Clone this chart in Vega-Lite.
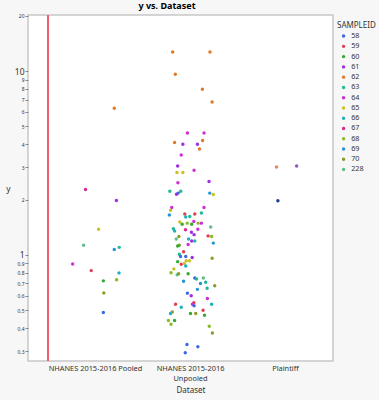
{
"$schema": "https://vega.github.io/schema/vega-lite/v6.json",
"width": 305, "height": 346,
"autosize": "none",
"padding": {"left": 28, "top": 15, "right": 46, "bottom": 39},
"background": "#f7f7f7",
"title": {"text": "y vs. Dataset", "fontSize": 9, "font": "Noto Sans", "fontWeight": "bold", "frame": "group", "anchor": "middle", "dx": -13.5, "offset": 3, "color": "#000000"},
"config": {"view": {"fill": "white", "stroke": "#c8c8c8", "strokeWidth": 1.5}, "font": "Noto Sans"},
"layer": [
{"data": {"values": [{}]},
 "mark": {"type": "rule", "color": "#f25c6e", "strokeWidth": 2},
 "encoding": {"x": {"datum": "NHANES 2015-2016 Pooled", "type": "nominal", "bandPosition": 0}}},
{"data": {"values": [
{"Dataset":"NHANES 2015-2016 Pooled","SAMPLEID":"67","jitter":-0.42,"y":2.27},
{"Dataset":"NHANES 2015-2016 Pooled","SAMPLEID":"61","jitter":0.88,"y":1.98},
{"Dataset":"NHANES 2015-2016 Pooled","SAMPLEID":"65","jitter":0.13,"y":1.38},
{"Dataset":"NHANES 2015-2016 Pooled","SAMPLEID":"228","jitter":-0.5,"y":1.13},
{"Dataset":"NHANES 2015-2016 Pooled","SAMPLEID":"69","jitter":0.79,"y":1.07},
{"Dataset":"NHANES 2015-2016 Pooled","SAMPLEID":"63","jitter":1.0,"y":1.10},
{"Dataset":"NHANES 2015-2016 Pooled","SAMPLEID":"64","jitter":-0.96,"y":0.894},
{"Dataset":"NHANES 2015-2016 Pooled","SAMPLEID":"59","jitter":-0.18,"y":0.822},
{"Dataset":"NHANES 2015-2016 Pooled","SAMPLEID":"66","jitter":0.99,"y":0.799},
{"Dataset":"NHANES 2015-2016 Pooled","SAMPLEID":"60","jitter":0.33,"y":0.723},
{"Dataset":"NHANES 2015-2016 Pooled","SAMPLEID":"68","jitter":0.89,"y":0.734},
{"Dataset":"NHANES 2015-2016 Pooled","SAMPLEID":"70","jitter":0.35,"y":0.622},
{"Dataset":"NHANES 2015-2016 Pooled","SAMPLEID":"58","jitter":0.33,"y":0.486},
{"Dataset":"NHANES 2015-2016 Pooled","SAMPLEID":"62","jitter":0.79,"y":6.28},
{"Dataset":"NHANES 2015-2016 Unpooled","SAMPLEID":"62","jitter":-0.75,"y":12.7},
{"Dataset":"NHANES 2015-2016 Unpooled","SAMPLEID":"62","jitter":0.82,"y":12.7},
{"Dataset":"NHANES 2015-2016 Unpooled","SAMPLEID":"62","jitter":-0.64,"y":9.63},
{"Dataset":"NHANES 2015-2016 Unpooled","SAMPLEID":"62","jitter":0.5,"y":7.96},
{"Dataset":"NHANES 2015-2016 Unpooled","SAMPLEID":"62","jitter":0.91,"y":6.79},
{"Dataset":"NHANES 2015-2016 Unpooled","SAMPLEID":"64","jitter":-0.13,"y":4.61},
{"Dataset":"NHANES 2015-2016 Unpooled","SAMPLEID":"64","jitter":0.57,"y":4.61},
{"Dataset":"NHANES 2015-2016 Unpooled","SAMPLEID":"62","jitter":-0.67,"y":4.09},
{"Dataset":"NHANES 2015-2016 Unpooled","SAMPLEID":"62","jitter":0.51,"y":4.19},
{"Dataset":"NHANES 2015-2016 Unpooled","SAMPLEID":"61","jitter":-0.32,"y":4.0},
{"Dataset":"NHANES 2015-2016 Unpooled","SAMPLEID":"61","jitter":0.29,"y":4.0},
{"Dataset":"NHANES 2015-2016 Unpooled","SAMPLEID":"62","jitter":0.38,"y":3.77},
{"Dataset":"NHANES 2015-2016 Unpooled","SAMPLEID":"64","jitter":-0.39,"y":3.5},
{"Dataset":"NHANES 2015-2016 Unpooled","SAMPLEID":"61","jitter":-0.54,"y":3.05},
{"Dataset":"NHANES 2015-2016 Unpooled","SAMPLEID":"64","jitter":0.15,"y":2.89},
{"Dataset":"NHANES 2015-2016 Unpooled","SAMPLEID":"65","jitter":-0.57,"y":2.81},
{"Dataset":"NHANES 2015-2016 Unpooled","SAMPLEID":"65","jitter":-0.32,"y":2.81},
{"Dataset":"NHANES 2015-2016 Unpooled","SAMPLEID":"64","jitter":-0.53,"y":2.47},
{"Dataset":"NHANES 2015-2016 Unpooled","SAMPLEID":"61","jitter":0.78,"y":2.51},
{"Dataset":"NHANES 2015-2016 Unpooled","SAMPLEID":"63","jitter":-0.87,"y":2.22},
{"Dataset":"NHANES 2015-2016 Unpooled","SAMPLEID":"63","jitter":-0.41,"y":2.22},
{"Dataset":"NHANES 2015-2016 Unpooled","SAMPLEID":"61","jitter":-0.59,"y":2.14},
{"Dataset":"NHANES 2015-2016 Unpooled","SAMPLEID":"58","jitter":-0.52,"y":2.17},
{"Dataset":"NHANES 2015-2016 Unpooled","SAMPLEID":"69","jitter":0.81,"y":2.17},
{"Dataset":"NHANES 2015-2016 Unpooled","SAMPLEID":"65","jitter":0.96,"y":2.13},
{"Dataset":"NHANES 2015-2016 Unpooled","SAMPLEID":"64","jitter":-0.79,"y":1.81},
{"Dataset":"NHANES 2015-2016 Unpooled","SAMPLEID":"64","jitter":0.57,"y":1.81},
{"Dataset":"NHANES 2015-2016 Unpooled","SAMPLEID":"65","jitter":-0.84,"y":1.75},
{"Dataset":"NHANES 2015-2016 Unpooled","SAMPLEID":"69","jitter":-0.89,"y":1.65},
{"Dataset":"NHANES 2015-2016 Unpooled","SAMPLEID":"59","jitter":-0.24,"y":1.67},
{"Dataset":"NHANES 2015-2016 Unpooled","SAMPLEID":"59","jitter":0.18,"y":1.67},
{"Dataset":"NHANES 2015-2016 Unpooled","SAMPLEID":"63","jitter":0.46,"y":1.69},
{"Dataset":"NHANES 2015-2016 Unpooled","SAMPLEID":"66","jitter":-0.2,"y":1.61},
{"Dataset":"NHANES 2015-2016 Unpooled","SAMPLEID":"63","jitter":-0.03,"y":1.62},
{"Dataset":"NHANES 2015-2016 Unpooled","SAMPLEID":"65","jitter":-0.45,"y":1.51},
{"Dataset":"NHANES 2015-2016 Unpooled","SAMPLEID":"60","jitter":-0.35,"y":1.47},
{"Dataset":"NHANES 2015-2016 Unpooled","SAMPLEID":"68","jitter":-0.14,"y":1.49},
{"Dataset":"NHANES 2015-2016 Unpooled","SAMPLEID":"64","jitter":0.14,"y":1.52},
{"Dataset":"NHANES 2015-2016 Unpooled","SAMPLEID":"60","jitter":0.05,"y":1.47},
{"Dataset":"NHANES 2015-2016 Unpooled","SAMPLEID":"68","jitter":0.32,"y":1.49},
{"Dataset":"NHANES 2015-2016 Unpooled","SAMPLEID":"64","jitter":0.46,"y":1.49},
{"Dataset":"NHANES 2015-2016 Unpooled","SAMPLEID":"228","jitter":0.85,"y":1.42},
{"Dataset":"NHANES 2015-2016 Unpooled","SAMPLEID":"63","jitter":-0.72,"y":1.39},
{"Dataset":"NHANES 2015-2016 Unpooled","SAMPLEID":"66","jitter":-0.67,"y":1.35},
{"Dataset":"NHANES 2015-2016 Unpooled","SAMPLEID":"67","jitter":-0.21,"y":1.37},
{"Dataset":"NHANES 2015-2016 Unpooled","SAMPLEID":"61","jitter":0.04,"y":1.33},
{"Dataset":"NHANES 2015-2016 Unpooled","SAMPLEID":"64","jitter":0.31,"y":1.38},
{"Dataset":"NHANES 2015-2016 Unpooled","SAMPLEID":"61","jitter":0.15,"y":1.29},
{"Dataset":"NHANES 2015-2016 Unpooled","SAMPLEID":"59","jitter":0.74,"y":1.27},
{"Dataset":"NHANES 2015-2016 Unpooled","SAMPLEID":"68","jitter":0.89,"y":1.26},
{"Dataset":"NHANES 2015-2016 Unpooled","SAMPLEID":"70","jitter":-0.49,"y":1.26},
{"Dataset":"NHANES 2015-2016 Unpooled","SAMPLEID":"228","jitter":-0.6,"y":1.22},
{"Dataset":"NHANES 2015-2016 Unpooled","SAMPLEID":"66","jitter":-0.08,"y":1.22},
{"Dataset":"NHANES 2015-2016 Unpooled","SAMPLEID":"61","jitter":0.05,"y":1.19},
{"Dataset":"NHANES 2015-2016 Unpooled","SAMPLEID":"63","jitter":0.18,"y":1.19},
{"Dataset":"NHANES 2015-2016 Unpooled","SAMPLEID":"69","jitter":0.96,"y":1.16},
{"Dataset":"NHANES 2015-2016 Unpooled","SAMPLEID":"70","jitter":-0.47,"y":1.13},
{"Dataset":"NHANES 2015-2016 Unpooled","SAMPLEID":"60","jitter":-0.54,"y":1.12},
{"Dataset":"NHANES 2015-2016 Unpooled","SAMPLEID":"64","jitter":-0.1,"y":1.14},
{"Dataset":"NHANES 2015-2016 Unpooled","SAMPLEID":"59","jitter":-0.29,"y":1.04},
{"Dataset":"NHANES 2015-2016 Unpooled","SAMPLEID":"63","jitter":-0.47,"y":1.01},
{"Dataset":"NHANES 2015-2016 Unpooled","SAMPLEID":"58","jitter":-0.42,"y":0.98},
{"Dataset":"NHANES 2015-2016 Unpooled","SAMPLEID":"58","jitter":-0.2,"y":0.98},
{"Dataset":"NHANES 2015-2016 Unpooled","SAMPLEID":"61","jitter":0.07,"y":0.97},
{"Dataset":"NHANES 2015-2016 Unpooled","SAMPLEID":"70","jitter":0.91,"y":0.96},
{"Dataset":"NHANES 2015-2016 Unpooled","SAMPLEID":"60","jitter":-0.54,"y":0.92},
{"Dataset":"NHANES 2015-2016 Unpooled","SAMPLEID":"65","jitter":-0.18,"y":0.93},
{"Dataset":"NHANES 2015-2016 Unpooled","SAMPLEID":"65","jitter":-0.04,"y":0.93},
{"Dataset":"NHANES 2015-2016 Unpooled","SAMPLEID":"59","jitter":-0.39,"y":0.89},
{"Dataset":"NHANES 2015-2016 Unpooled","SAMPLEID":"65","jitter":-0.26,"y":0.9},
{"Dataset":"NHANES 2015-2016 Unpooled","SAMPLEID":"66","jitter":-0.2,"y":0.87},
{"Dataset":"NHANES 2015-2016 Unpooled","SAMPLEID":"65","jitter":-0.7,"y":0.84},
{"Dataset":"NHANES 2015-2016 Unpooled","SAMPLEID":"68","jitter":-0.82,"y":0.8},
{"Dataset":"NHANES 2015-2016 Unpooled","SAMPLEID":"228","jitter":-0.56,"y":0.78},
{"Dataset":"NHANES 2015-2016 Unpooled","SAMPLEID":"70","jitter":-0.5,"y":0.79},
{"Dataset":"NHANES 2015-2016 Unpooled","SAMPLEID":"60","jitter":-0.1,"y":0.79},
{"Dataset":"NHANES 2015-2016 Unpooled","SAMPLEID":"58","jitter":0.18,"y":0.75},
{"Dataset":"NHANES 2015-2016 Unpooled","SAMPLEID":"63","jitter":0.25,"y":0.74},
{"Dataset":"NHANES 2015-2016 Unpooled","SAMPLEID":"228","jitter":0.54,"y":0.75},
{"Dataset":"NHANES 2015-2016 Unpooled","SAMPLEID":"69","jitter":-0.29,"y":0.72},
{"Dataset":"NHANES 2015-2016 Unpooled","SAMPLEID":"69","jitter":0.42,"y":0.7},
{"Dataset":"NHANES 2015-2016 Unpooled","SAMPLEID":"63","jitter":0.64,"y":0.71},
{"Dataset":"NHANES 2015-2016 Unpooled","SAMPLEID":"70","jitter":1.02,"y":0.68},
{"Dataset":"NHANES 2015-2016 Unpooled","SAMPLEID":"63","jitter":0.7,"y":0.66},
{"Dataset":"NHANES 2015-2016 Unpooled","SAMPLEID":"69","jitter":0.29,"y":0.65},
{"Dataset":"NHANES 2015-2016 Unpooled","SAMPLEID":"58","jitter":-0.13,"y":0.62},
{"Dataset":"NHANES 2015-2016 Unpooled","SAMPLEID":"61","jitter":0.03,"y":0.6},
{"Dataset":"NHANES 2015-2016 Unpooled","SAMPLEID":"64","jitter":0.71,"y":0.58},
{"Dataset":"NHANES 2015-2016 Unpooled","SAMPLEID":"59","jitter":0.14,"y":0.55},
{"Dataset":"NHANES 2015-2016 Unpooled","SAMPLEID":"64","jitter":0.08,"y":0.54},
{"Dataset":"NHANES 2015-2016 Unpooled","SAMPLEID":"58","jitter":0.15,"y":0.53},
{"Dataset":"NHANES 2015-2016 Unpooled","SAMPLEID":"66","jitter":0.89,"y":0.54},
{"Dataset":"NHANES 2015-2016 Unpooled","SAMPLEID":"59","jitter":-0.63,"y":0.54},
{"Dataset":"NHANES 2015-2016 Unpooled","SAMPLEID":"66","jitter":-0.39,"y":0.52},
{"Dataset":"NHANES 2015-2016 Unpooled","SAMPLEID":"59","jitter":0.53,"y":0.5},
{"Dataset":"NHANES 2015-2016 Unpooled","SAMPLEID":"70","jitter":-0.77,"y":0.49},
{"Dataset":"NHANES 2015-2016 Unpooled","SAMPLEID":"66","jitter":-0.84,"y":0.48},
{"Dataset":"NHANES 2015-2016 Unpooled","SAMPLEID":"60","jitter":0.0,"y":0.48},
{"Dataset":"NHANES 2015-2016 Unpooled","SAMPLEID":"70","jitter":0.22,"y":0.48},
{"Dataset":"NHANES 2015-2016 Unpooled","SAMPLEID":"60","jitter":0.59,"y":0.47},
{"Dataset":"NHANES 2015-2016 Unpooled","SAMPLEID":"68","jitter":-0.93,"y":0.44},
{"Dataset":"NHANES 2015-2016 Unpooled","SAMPLEID":"60","jitter":-0.67,"y":0.44},
{"Dataset":"NHANES 2015-2016 Unpooled","SAMPLEID":"68","jitter":-0.82,"y":0.42},
{"Dataset":"NHANES 2015-2016 Unpooled","SAMPLEID":"68","jitter":0.79,"y":0.41},
{"Dataset":"NHANES 2015-2016 Unpooled","SAMPLEID":"70","jitter":0.92,"y":0.376},
{"Dataset":"NHANES 2015-2016 Unpooled","SAMPLEID":"58","jitter":-0.15,"y":0.326},
{"Dataset":"NHANES 2015-2016 Unpooled","SAMPLEID":"58","jitter":0.31,"y":0.317},
{"Dataset":"NHANES 2015-2016 Unpooled","SAMPLEID":"58","jitter":-0.22,"y":0.294},
{"Dataset":"Plaintiff","SAMPLEID":"P1","jitter":-0.38,"y":3.01},
{"Dataset":"Plaintiff","SAMPLEID":"P2","jitter":0.47,"y":3.05},
{"Dataset":"Plaintiff","SAMPLEID":"P3","jitter":-0.32,"y":1.97}
 ]},
 "mark": {"type": "circle", "size": 12, "opacity": 1},
 "encoding": {
  "x": {"field": "Dataset", "type": "nominal",
   "scale": {"type": "band", "domain": ["NHANES 2015-2016 Pooled", "NHANES 2015-2016 Unpooled", "Plaintiff"], "range": [20, 305], "paddingInner": 0, "paddingOuter": 0},
   "axis": {"title": "Dataset", "titleFontSize": 8, "titleFontWeight": "normal", "titleColor": "#333333", "titlePadding": 5,
    "labelFontSize": 7.4, "labelColor": "#333333", "labelAngle": 0, "labelAlign": "center", "labelBaseline": "top", "labelPadding": 3, "ticks": false, "domain": false, "grid": false, "labelOverlap": false, "labelBound": false, "labelFlush": false, "labelLineHeight": 10,
    "labelExpr": "datum.label == 'NHANES 2015-2016 Unpooled' ? ['NHANES 2015-2016', 'Unpooled'] : datum.label"}},
  "xOffset": {"field": "jitter", "type": "quantitative", "scale": {"domain": [-2, 2]}},
  "y": {"field": "y", "type": "quantitative",
   "scale": {"type": "log", "domain": [0.265, 20.2], "nice": false},
   "axis": {"title": "y", "titleAngle": 0, "titleX": -20, "titleY": 173, "titleAlign": "center", "titleBaseline": "middle", "titleFontSize": 8.5, "titleFontWeight": "normal", "titleColor": "#333333",
    "values": [0.3, 0.4, 0.5, 0.6, 0.7, 0.8, 0.9, 1, 2, 3, 4, 5, 6, 7, 8, 9, 10, 20],
    "format": "~g", "labelFontSize": {"condition": {"test": "datum.value == 1 || datum.value == 10", "value": 8.5}, "value": 5},
    "labelColor": "#333333", "tickSize": 3, "tickColor": "#888888", "labelPadding": 1, "domain": false, "grid": false}},
  "color": {"field": "SAMPLEID", "type": "nominal",
   "scale": {"domain": ["58","59","60","61","62","63","64","65","66","67","68","69","70","228","P1","P2","P3"],
    "range": ["#3c6ae0","#e0404e","#35a835","#a02de6","#e07a25","#22b896","#cf2ed6","#c9c126","#1cb0c0","#dd2a92","#8cb92a","#2496d6","#8c9a28","#5cc08c","#e8845e","#9a50c0","#1c3f8c"]},
   "legend": {"title": "SAMPLEID", "values": ["58","59","60","61","62","63","64","65","66","67","68","69","70","228"],
    "orient": "right", "offset": -3, "padding": 7, "titleFontSize": 8, "titleFontWeight": "normal", "titleColor": "#333333", "titlePadding": 2.5,
    "labelFontSize": 7.2, "labelColor": "#333333", "symbolSize": 12, "symbolType": "circle", "symbolOffset": 3, "labelOffset": 4, "rowPadding": 2.26}}
 }}
]
}
